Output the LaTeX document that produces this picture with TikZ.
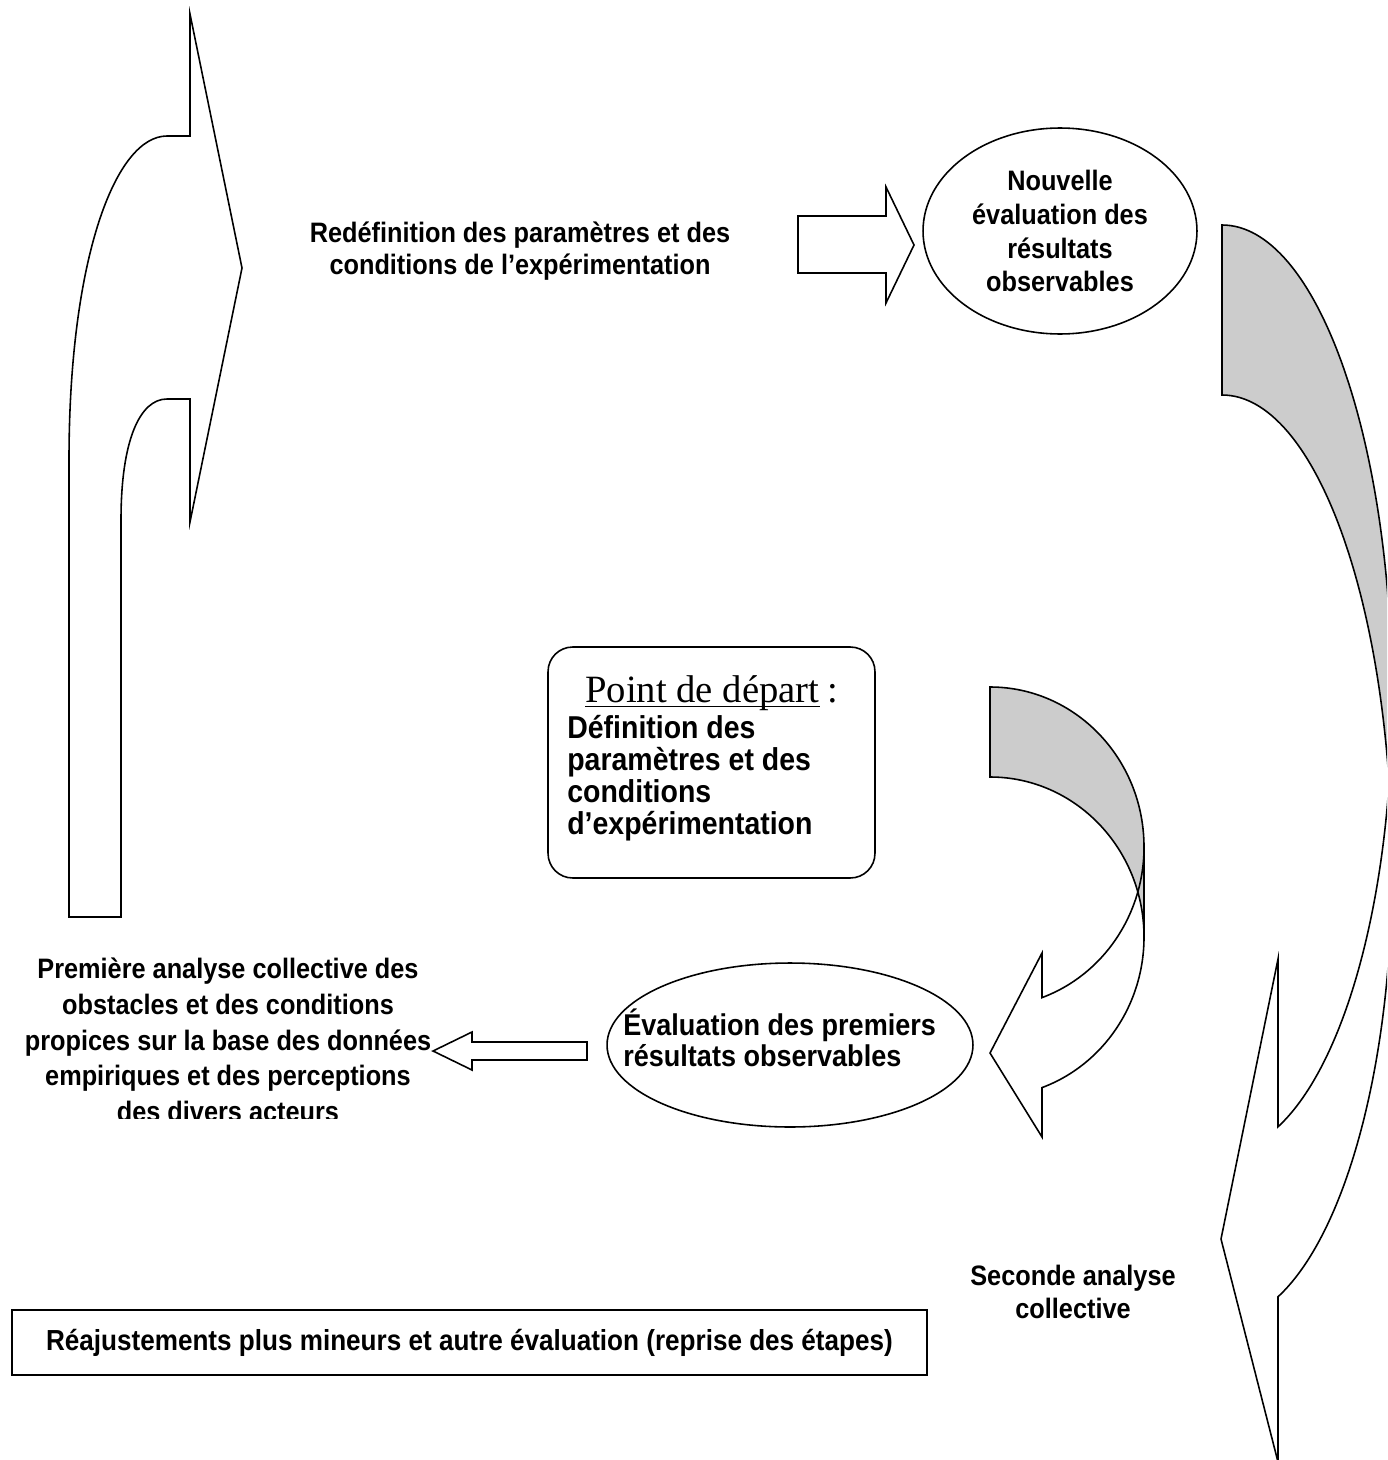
\documentclass[tikz,border=0pt]{standalone}
\usepackage{fontspec}
\setmainfont{Liberation Sans}[FakeStretch=0.9]
\newfontfamily\titlefont{Liberation Serif}
\usepackage{tikz}
\usetikzlibrary{shapes.geometric}
\definecolor{shadegray}{RGB}{204,204,204}
\tikzset{
  outline/.style={draw=black, line width=0.9pt},
  labeltext/.style={align=center, inner sep=0pt, font=\fontsize{16}{18.4}\selectfont\bfseries},
  titletext/.style={inner sep=0pt, font=\fontsize{22}{24}\selectfont\titlefont},
  ovalbox/.style={ellipse, outline, inner sep=0pt},
  startbox/.style={rectangle, outline, rounded corners=14pt, inner sep=0pt,
    minimum width=6.54cm, minimum height=4.62cm},
  plainbox/.style={rectangle, outline, inner sep=0pt,
    minimum width=18.3cm, minimum height=1.3cm},
  arrowshape/.style={outline, fill=white},
  backshape/.style={outline, fill=shadegray}
}

\begin{document}
\begin{tikzpicture}[x=0.02cm, y=-0.02cm]
\useasboundingbox (0,0) rectangle (1387,1460);
\clip (0,0) rectangle (1387,1460);

% texts and boxes
\node[labeltext] (redef) at (520,251) {Redéfinition des paramètres et des\\conditions de l’expérimentation};
\node[ovalbox, labeltext, font=\fontsize{16}{19.3}\selectfont\bfseries,
  minimum width=5.48cm, minimum height=4.12cm] (nouv) at (1060,231)
  {Nouvelle\\évaluation des\\résultats\\observables};
\node[startbox] (depart) at (711.5,762.5) {};
\node[titletext, anchor=base west] (titre) at (585,702) {Point de départ};
\node[titletext, anchor=base west, xshift=4pt] (colon) at (titre.base east) {:};
\draw[line width=1pt] ([yshift=-2.5pt]titre.base west) -- ([yshift=-2.5pt]titre.base east);
\node[labeltext, align=left, anchor=west, font=\fontsize{18}{18.2}\selectfont\bfseries] (defn) at (567,778)
  {Définition des\\paramètres et des\\conditions\\d’expérimentation};
\node[ovalbox, minimum width=7.32cm, minimum height=3.28cm] (eval) at (790,1045) {};
\node[labeltext, align=left, anchor=west, font=\fontsize{17.1}{17.7}\selectfont\bfseries] (evaltxt) at (623,1038)
  {Évaluation des premiers\\résultats observables};
\begin{scope}
  \clip (0,900) rectangle (460,1118);
  \node[labeltext, font=\fontsize{16}{20.3}\selectfont\bfseries] (premiere) at (228,1040)
    {Première analyse collective des\\obstacles et des conditions\\propices sur la base des données\\empiriques et des perceptions\\des divers acteurs};
\end{scope}
\node[plainbox, labeltext, font=\fontsize{16.5}{18.4}\selectfont\bfseries] (reaj) at (469.5,1342.5)
  {Réajustements plus mineurs et autre évaluation (reprise des étapes)};
\node[labeltext] (seconde) at (1073,1292) {Seconde analyse\\collective};

% left curved arrow
\draw[arrowshape] (69,917) -- (69,460) .. controls (69,260) and (115,136) .. (167,136)
  -- (190,136) -- (190,14) -- (242,268) -- (190,522) -- (190,399) -- (167,399)
  .. controls (140,399) and (121,440) .. (121,520) -- (121,917) -- cycle;

% block arrows
\draw[arrowshape] (798,216) -- (886,216) -- (886,187) -- (914,245) -- (886,303) -- (886,273) -- (798,273) -- cycle;
\draw[arrowshape] (587,1042) -- (472,1042) -- (472,1032) -- (433,1051) -- (472,1070) -- (472,1060) -- (587,1060) -- cycle;

% small curved arrow
\draw[backshape] (990,687) arc[start angle=-90, end angle=0, x radius=154, y radius=160]
  -- (1144,937) arc[start angle=0, end angle=-90, x radius=154, y radius=160] -- cycle;
\draw[outline] (1144,937) arc[start angle=0, end angle=70.27, x radius=154, y radius=160]
  -- (1042,1137) -- (990,1053) -- (1042,953) -- (1042,997.6)
  arc[start angle=70.27, end angle=0, x radius=154, y radius=160] -- cycle;

% big curved arrow
\draw[backshape] (1222,225) arc[start angle=-90, end angle=0, x radius=170, y radius=475]
  -- (1392,870) arc[start angle=0, end angle=-90, x radius=170, y radius=475] -- cycle;
\draw[outline] (1392,870) arc[start angle=0, end angle=70.77, x radius=170, y radius=452]
  -- (1278,1462) -- (1221,1239) -- (1278,959) -- (1278,1126.8)
  arc[start angle=70.77, end angle=0, x radius=170, y radius=452] -- cycle;
\end{tikzpicture}
\end{document}
